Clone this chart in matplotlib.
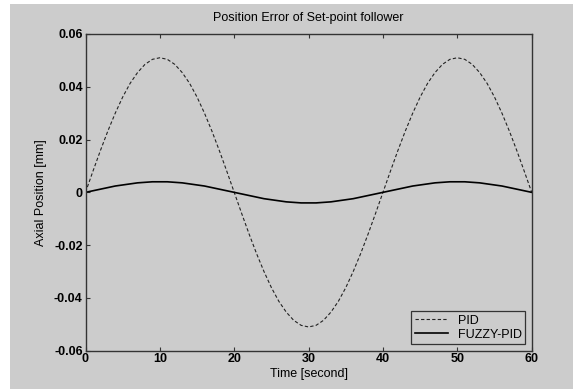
import numpy as np
import matplotlib.pyplot as plt
from matplotlib.patches import Rectangle

# time axis [s] and values (1 s steps)
time_s = np.arange(0, 61, 1)
pid_err = [0.0, 0.0080, 0.0158, 0.0232, 0.0300, 0.0361, 0.0413, 0.0454, 0.0485, 0.0504,
           0.0510, 0.0504, 0.0485, 0.0454, 0.0413, 0.0361, 0.0300, 0.0232, 0.0158, 0.0080,
           0.0, -0.0080, -0.0158, -0.0232, -0.0300, -0.0361, -0.0413, -0.0454, -0.0485, -0.0504,
           -0.0510, -0.0504, -0.0485, -0.0454, -0.0413, -0.0361, -0.0300, -0.0232, -0.0158, -0.0080,
           0.0, 0.0080, 0.0158, 0.0232, 0.0300, 0.0361, 0.0413, 0.0454, 0.0485, 0.0504,
           0.0510, 0.0504, 0.0485, 0.0454, 0.0413, 0.0361, 0.0300, 0.0232, 0.0158, 0.0080, 0.0]
fuzzy_err = [0.0, 0.0006, 0.0012, 0.0018, 0.0024, 0.0028, 0.0032, 0.0036, 0.0038, 0.0040,
             0.0040, 0.0040, 0.0038, 0.0036, 0.0032, 0.0028, 0.0024, 0.0018, 0.0012, 0.0006,
             0.0, -0.0006, -0.0012, -0.0018, -0.0024, -0.0028, -0.0032, -0.0036, -0.0038, -0.0040,
             -0.0040, -0.0040, -0.0038, -0.0036, -0.0032, -0.0028, -0.0024, -0.0018, -0.0012, -0.0006,
             0.0, 0.0006, 0.0012, 0.0018, 0.0024, 0.0028, 0.0032, 0.0036, 0.0038, 0.0040,
             0.0040, 0.0040, 0.0038, 0.0036, 0.0032, 0.0028, 0.0024, 0.0018, 0.0012, 0.0006, 0.0]
xticks = [0, 10, 20, 30, 40, 50, 60]
yticks = [-0.06, -0.04, -0.02, 0, 0.02, 0.04, 0.06]
ytick_labels = ['-0.06', '-0.04', '-0.02', '0', '0.02', '0.04', '0.06']

plt.rcParams['font.family'] = ['Liberation Sans', 'DejaVu Sans']
bg = '#cccccc'

fig = plt.figure(figsize=(5.73, 3.89), dpi=100, facecolor='white')
# grey figure area (white strip on top and left like the screenshot)
fig.patches.append(Rectangle((10/573, 0), 1, 1 - 4/389, transform=fig.transFigure,
                             facecolor=bg, edgecolor='none', zorder=-10))
ax = fig.add_axes([85.5/573, 1 - 350.7/389, (531.7 - 85.5)/573, (350.7 - 34)/389])
ax.set_facecolor(bg)

ax.plot(time_s, pid_err, color='#222222', lw=0.8, ls=(0, (3, 2)), label='PID')
ax.plot(time_s, fuzzy_err, color='black', lw=1.2, label='FUZZY-PID')

ax.set_xlim(0, 60)
ax.set_ylim(-0.06, 0.06)
ax.set_xticks(xticks)
ax.set_xticklabels([str(t) for t in xticks], fontsize=9, fontweight='bold')
ax.set_yticks(yticks)
ax.set_yticklabels(ytick_labels, fontsize=9, fontweight='bold')
ax.tick_params(direction='in', length=3, width=0.8, color='#333333', pad=2)
ax.tick_params(top=True, right=False, labeltop=False)
for sp in ax.spines.values():
    sp.set_color('#333333')
    sp.set_linewidth(1.0)

ax.set_xlabel('Time [second]', fontsize=9, labelpad=2)
ax.set_ylabel('Axial Position [mm]', fontsize=9, labelpad=5)
ax.set_title('Position Error of Set-point follower', fontsize=9, pad=9)

leg = ax.legend(loc='lower right', fontsize=9, frameon=True, fancybox=False,
                handlelength=2.6, borderpad=0.3, labelspacing=0.15,
                borderaxespad=0.5)
leg.get_frame().set_facecolor(bg)
leg.get_frame().set_edgecolor('#333333')
leg.get_frame().set_linewidth(0.9)
leg.get_frame().set_alpha(1)

fig.savefig('out.png', dpi=100, facecolor=fig.get_facecolor())
